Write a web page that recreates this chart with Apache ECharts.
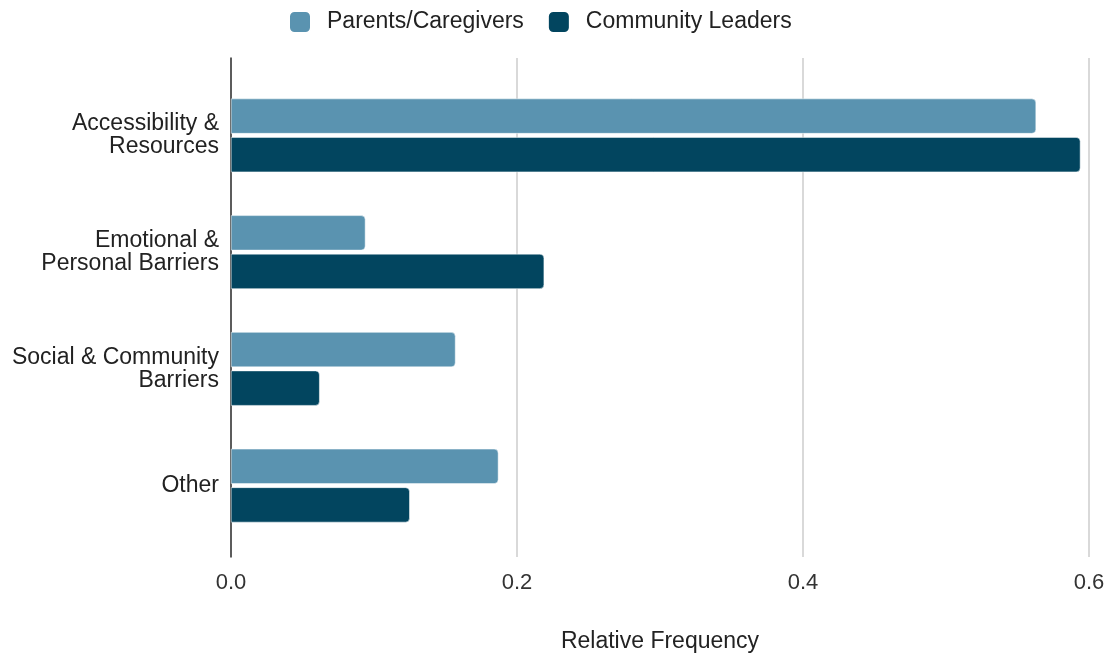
<!DOCTYPE html>
<html><head><meta charset="utf-8">
<script src="https://cdn.jsdelivr.net/npm/echarts@6/dist/echarts.min.js"></script>
<style>html,body{margin:0;padding:0;background:#fff}#c{width:1112px;height:658px}</style>
</head><body><div id="c"></div>
<script>
const categories = ["Accessibility &\nResources", "Emotional &\nPersonal Barriers", "Social & Community\nBarriers", "Other"];
const parents = [0.563, 0.094, 0.157, 0.187];
const leaders = [0.594, 0.219, 0.062, 0.125];
const seriesNames = ["Parents/Caregivers", "Community Leaders"];
const xTicks = [0, 0.2, 0.4, 0.6];

const chart = echarts.init(document.getElementById('c'));
const font = '"Liberation Sans", Arial, sans-serif';
chart.setOption({
  animation: false,
  textStyle: {fontFamily: font},
  legend: {
    top: 10, left: 288, itemWidth: 22, itemHeight: 22, itemGap: 23, padding: 0,
    icon: 'roundRect',
    textStyle: {fontSize: 23, color: '#222', fontFamily: font, padding: [0, 0, 0, 11], lineHeight: 22},
    data: seriesNames
  },
  grid: [
    {left: 231, right: 23, top: 77, bottom: 114},
    {left: 231, right: 23, top: 58, bottom: 96}
  ],
  xAxis: [
    {gridIndex: 0, type: 'value', min: xTicks[0], max: xTicks[xTicks.length-1], interval: 0.2, show: false},
    {gridIndex: 1, type: 'value', min: xTicks[0], max: xTicks[xTicks.length-1], interval: 0.2,
     axisLine: {show: false}, axisTick: {show: false},
     splitLine: {show: true, lineStyle: {color: '#cccccc', width: 1.5}},
     axisLabel: {fontSize: 22, color: '#333', margin: 15, formatter: v => v.toFixed(1), fontFamily: font},
     name: 'Relative Frequency', nameLocation: 'middle', nameGap: 73,
     nameTextStyle: {fontSize: 23, color: '#222', fontFamily: font}}
  ],
  yAxis: [
    {gridIndex: 0, type: 'category', data: categories, inverse: true,
     axisLine: {show: false}, axisTick: {show: false},
     axisLabel: {fontSize: 23, color: '#222', margin: 12, lineHeight: 23, align: 'right', fontFamily: font, padding: [4, 0, 0, 0]}},
    {gridIndex: 1, type: 'category', data: categories, inverse: true,
     axisLine: {show: true, lineStyle: {color: '#333', width: 1.5}}, axisTick: {show: false},
     axisLabel: {show: false}, splitLine: {show: false}}
  ],
  series: [
    {name: seriesNames[0], type: 'bar', data: parents, xAxisIndex: 0, yAxisIndex: 0,
     barGap: '10%', barCategoryGap: '37%',
     itemStyle: {color: '#5a93b0', borderRadius: [0, 4, 4, 0], borderColor: '#fff', borderWidth: 0.5}},
    {name: seriesNames[1], type: 'bar', data: leaders, xAxisIndex: 0, yAxisIndex: 0,
     barGap: '10%', barCategoryGap: '37%',
     itemStyle: {color: '#02455f', borderRadius: [0, 4, 4, 0], borderColor: '#fff', borderWidth: 0.5}}
  ]
});
</script></body></html>
